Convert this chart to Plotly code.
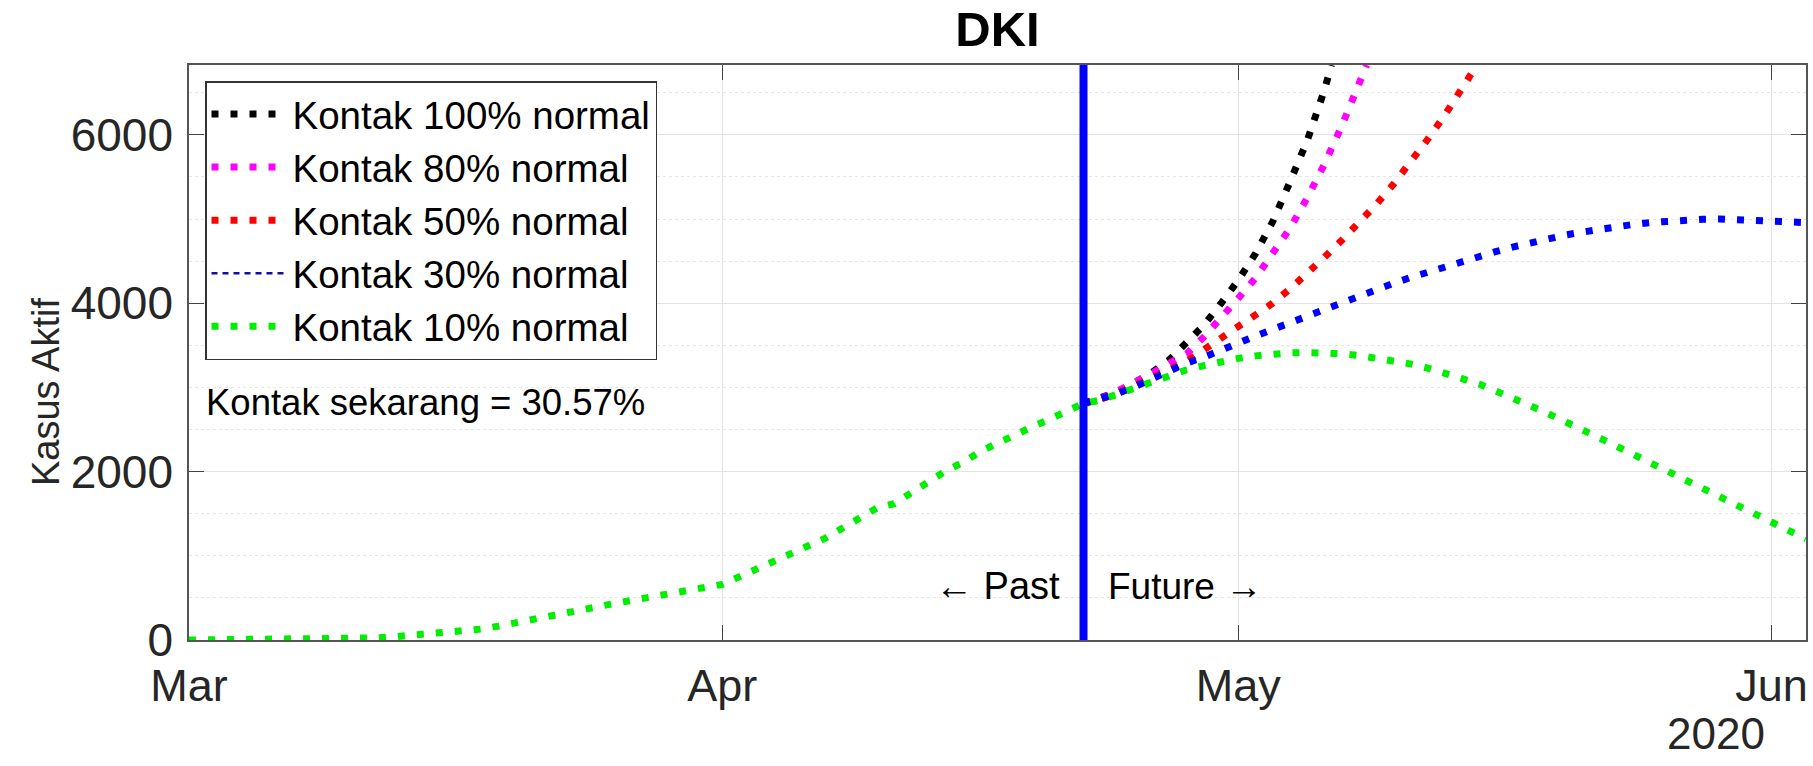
import pandas as pd
import plotly.graph_objects as go

# ---------------- data ----------------
past_start = "2020-03-01"
now_date = "2020-04-22"
end_date = "2020-06-03"

# Kontak 10% normal: observed history, daily Mar 1 .. Apr 22
green_past = [0, 2, 3, 4, 5, 6, 7, 8, 10, 12, 15, 25, 40, 58, 72, 85, 100, 130, 165,
              205, 250, 295, 335, 385, 420, 445, 480, 520, 565, 595, 625, 660, 750,
              840, 935, 1015, 1100, 1210, 1330, 1460, 1570, 1620, 1760, 1880, 2010,
              2110, 2240, 2340, 2450, 2530, 2620, 2720, 2810]

# projections, daily from Apr 22
green_future = [2810, 2850, 2920, 2990, 3080, 3140, 3210, 3260, 3310, 3345, 3375, 3395,
                3410, 3414, 3410, 3400, 3380, 3350, 3310, 3280, 3230, 3175, 3105, 3040,
                2960, 2880, 2780, 2690, 2600, 2510, 2400, 2300, 2200, 2100, 1980, 1880,
                1780, 1680, 1580, 1480, 1380, 1280, 1200]
blue_future = [2810, 2860, 2930, 3010, 3110, 3200, 3290, 3360, 3450, 3540, 3610, 3690,
               3770, 3855, 3935, 4010, 4090, 4165, 4235, 4305, 4370, 4440, 4500, 4560,
               4615, 4670, 4720, 4765, 4810, 4845, 4880, 4910, 4938, 4960, 4978, 4990,
               4997, 5000, 4995, 4988, 4978, 4968, 4958]
red_future = [2810, 2860, 2935, 3020, 3120, 3210, 3310, 3445, 3590, 3720, 3860, 4000,
              4170, 4350, 4545, 4745, 4955, 5170, 5410, 5665, 5945, 6235, 6540]
red_exit = ("2020-05-14 21:00", 6830)
magenta_future = [2810, 2870, 2960, 3060, 3170, 3290, 3400, 3600, 3815, 4060, 4300,
                  4580, 4890, 5250, 5650, 6100, 6590]
magenta_exit = ("2020-05-08 11:00", 6830)
black_future = [2810, 2880, 2950, 3060, 3180, 3330, 3525, 3740, 4000, 4275, 4590,
                4970, 5440, 5930, 6530]
black_exit = ("2020-05-06 10:00", 6830)

names = ["Kontak 100% normal", "Kontak 80% normal", "Kontak 50% normal",
         "Kontak 30% normal", "Kontak 10% normal"]
colors = ["#000000", "#FF00FF", "#FF0000", "#0000FF", "#00EE00"]

month_ticks = ["2020-03-01", "2020-04-01", "2020-05-01", "2020-06-01"]
month_labels = ["Mar", "Apr", "May", "Jun"]
y_ticks = [0, 2000, 4000, 6000]
y_max = 6830
current_contact = "Kontak sekarang = 30.57%"

# ---------------- build ----------------
FONT = "Liberation Sans, Arial, Helvetica, sans-serif"
future_days = pd.date_range(now_date, end_date, freq="D")
past_days = pd.date_range(past_start, now_date, freq="D")


def series(vals, exit_pt=None):
    xs = list(future_days[:len(vals)])
    ys = list(vals)
    if exit_pt is not None:
        xs.append(pd.Timestamp(exit_pt[0]))
        ys.append(exit_pt[1])
    return xs, ys


dot = "7px,12px"
fig = go.Figure()

proj = [series(black_future, black_exit), series(magenta_future, magenta_exit),
        series(red_future, red_exit), series(blue_future)]
for i, (xs, ys) in enumerate(proj):
    fig.add_trace(go.Scatter(
        x=xs, y=ys, mode="lines", name=names[i],
        line=dict(color=colors[i], width=7, dash=dot),
        showlegend=(i != 3), legendgroup=f"g{i}", hoverinfo="skip"))
    if i == 3:
        # legend entry for 30% is drawn as thin dashed line in the reference
        fig.add_trace(go.Scatter(
            x=[None], y=[None], mode="lines", name=names[3],
            line=dict(color="#1010a0", width=2.5, dash="6px,5px"),
            legendgroup="g3"))

green_x = list(past_days) + list(future_days[1:])
green_y = green_past + green_future[1:]
fig.add_trace(go.Scatter(
    x=green_x, y=green_y, mode="lines", name=names[4],
    line=dict(color=colors[4], width=7, dash=dot), legendgroup="g4",
    hoverinfo="skip"))

fig.add_vline(x=pd.Timestamp(now_date).timestamp() * 1000, line=dict(color="#0000FF", width=8),
              layer="above")

L, R, T, B = 189, 7, 65, 126
PW, PH = 1813 - L - R, 766 - T - B

grid = "#e3e3e3"
fig.update_layout(
    width=1813, height=766,
    margin=dict(l=L, r=R, t=T, b=B, autoexpand=False),
    paper_bgcolor="white", plot_bgcolor="white",
    font=dict(family=FONT, color="#262626"),
    title=dict(text="<b>DKI</b>", x=0.5, xref="paper", xanchor="center",
               y=1 - 29 / 766, yref="container", yanchor="middle",
               font=dict(size=49, color="#000000", family=FONT)),
    showlegend=True,
    legend=dict(x=(205 - L) / PW, y=(640 - 81) / PH, xanchor="left", yanchor="top",
                bgcolor="white", bordercolor="#333333", borderwidth=1.5,
                font=dict(size=38.5, color="#000000", family=FONT),
                tracegroupgap=0, itemwidth=76, traceorder="normal"),
    xaxis=dict(type="date", range=[past_start, end_date], automargin=False,
               tickvals=month_ticks, ticktext=month_labels,
               showgrid=True, gridcolor=grid, gridwidth=1,
               ticks="inside", ticklen=15, tickcolor="#444444",
               showline=True, linecolor="#555555", linewidth=1.5, mirror="ticks",
               ticklabelstandoff=5,
               tickfont=dict(size=45, color="#262626"), zeroline=False),
    yaxis=dict(range=[0, y_max], tickvals=y_ticks, automargin=False,
               showgrid=True, gridcolor=grid, gridwidth=1,
               minor=dict(dtick=500, tick0=0, showgrid=True, gridcolor="#e6e6e6",
                          griddash="dot", ticks=""),
               ticks="inside", ticklen=15, tickcolor="#444444",
               showline=True, linecolor="#555555", linewidth=1.5, mirror="ticks",
               ticklabelstandoff=5,
               tickfont=dict(size=46, color="#262626"), zeroline=False),
)

fig.add_annotation(text="Kasus Aktif", xref="paper", yref="paper",
                   x=-(L - 46) / PW, y=(640 - 392) / PH, textangle=-90,
                   showarrow=False, xanchor="center", yanchor="middle",
                   font=dict(size=38, color="#262626", family=FONT))
fig.add_annotation(text=current_contact, xref="paper", yref="paper",
                   x=(204 - L) / PW, y=(640 - 402) / PH, showarrow=False,
                   xanchor="left", yanchor="middle",
                   font=dict(size=36.5, color="#000000", family=FONT))
fig.add_annotation(text="\u2190 Past", x=now_date, y=640, xref="x", yref="y",
                   xanchor="right", yanchor="middle", xshift=-22, showarrow=False,
                   font=dict(size=38, color="#000000", family=FONT))
fig.add_annotation(text="Future \u2192", x=now_date, y=640, xref="x", yref="y",
                   xanchor="left", yanchor="middle", xshift=22, showarrow=False,
                   font=dict(size=37, color="#000000", family=FONT))
fig.add_annotation(text="2020", xref="paper", yref="paper",
                   x=(1767 - L) / PW, y=(640 - 733) / PH, showarrow=False,
                   xanchor="right", yanchor="middle",
                   font=dict(size=44, color="#262626", family=FONT))

fig.write_html("out.html", config={"displayModeBar": False},
               post_script="document.body.style.margin='0';"
                           "document.body.style.overflow='hidden';")
